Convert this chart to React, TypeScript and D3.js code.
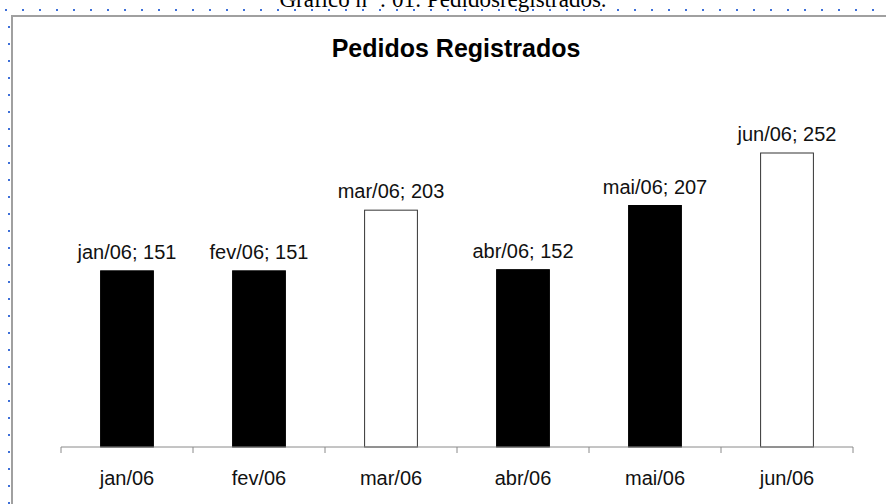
import { useEffect } from "react";
import * as d3 from "d3";

const W = 886;
const H = 504;
const AXIS = { left: 61, right: 853, bottom: 447, top: 97 };

const months = ["jan/06", "fev/06", "mar/06", "abr/06", "mai/06", "jun/06"];
const pedidos = [151, 151, 203, 152, 207, 252];
const hollowMonths = ["mar/06", "jun/06"];

const SANS = "'Liberation Sans', Arial, sans-serif";
const SERIF = "'Liberation Serif', 'Times New Roman', serif";

const App = () => {
  useEffect(() => {
    document.body.style.margin = "0";
  }, []);

  const x = d3.scaleBand().domain(months).range([AXIS.left, AXIS.right]).padding(0);
  const y = d3.scaleLinear().domain([0, 300]).range([AXIS.bottom, AXIS.top]);
  const barW = x.bandwidth() * 0.4;
  const tickXs = d3.range(months.length + 1).map((i) => AXIS.left + i * x.step());

  return (
    <svg width={W} height={H} style={{ display: "block", background: "#fff" }}>
      {/* page header, cut at the top like the source */}
      <text x={443} y={7} textAnchor="middle" fontFamily={SERIF} fontSize={23} fill="#000">
        Gráfico nº : 01: Pedidosregistrados.
      </text>

      {/* dotted page guides */}
      <line x1={5} x2={W} y1={10} y2={10} stroke="#3d6fd8" strokeWidth={2} strokeDasharray="2 15" />
      <line x1={9} x2={9} y1={26} y2={H} stroke="#3d6fd8" strokeWidth={2} strokeDasharray="2 15" />

      {/* chart frame */}
      <rect x={12} y={16} width={W + 20} height={H + 20} fill="#fff" stroke="#a0a0a0" strokeWidth={2} />

      <text x={456} y={57} textAnchor="middle" fontFamily={SANS} fontSize={25} fontWeight="bold" fill="#000">
        Pedidos Registrados
      </text>

      {/* bars */}
      {months.map((m, i) => {
        const cx = (x(m) ?? 0) + x.bandwidth() / 2;
        const hollow = hollowMonths.includes(m);
        return (
          <g key={m}>
            <rect
              x={cx - barW / 2}
              y={y(pedidos[i])}
              width={barW}
              height={AXIS.bottom - y(pedidos[i])}
              fill={hollow ? "#fff" : "#000"}
              stroke={hollow ? "#333" : "#000"}
              strokeWidth={1}
            />
            <text
              x={cx}
              y={y(pedidos[i]) - 12}
              textAnchor="middle"
              fontFamily={SANS}
              fontSize={20}
              fill="#111"
            >
              {`${m}; ${pedidos[i]}`}
            </text>
          </g>
        );
      })}

      {/* x axis */}
      <line x1={AXIS.left} x2={AXIS.right} y1={AXIS.bottom} y2={AXIS.bottom} stroke="#8a8a8a" strokeWidth={1} />
      {tickXs.map((tx) => (
        <line key={tx} x1={tx} x2={tx} y1={AXIS.bottom} y2={AXIS.bottom + 6} stroke="#8a8a8a" strokeWidth={1} />
      ))}
      {months.map((m) => (
        <text
          key={m}
          x={(x(m) ?? 0) + x.bandwidth() / 2}
          y={485}
          textAnchor="middle"
          fontFamily={SANS}
          fontSize={20}
          fill="#111"
        >
          {m}
        </text>
      ))}
    </svg>
  );
};

export default App;
